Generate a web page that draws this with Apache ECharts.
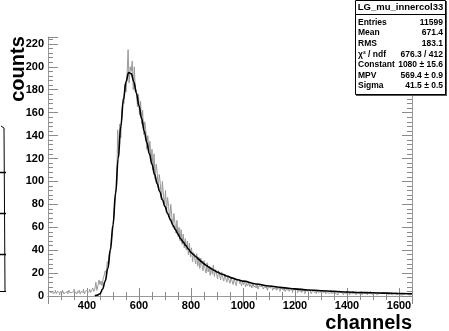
<!DOCTYPE html>
<html>
<head>
<meta charset="utf-8">
<script src="https://cdn.jsdelivr.net/npm/echarts@6/dist/echarts.min.js"></script>
<style>
html,body{margin:0;padding:0;background:#fff;}
#c{width:449px;height:331px;}
</style>
</head>
<body>
<div id="c"></div>
<script>
// ---- data ----
const histStart = 250;
const binWidth = 4;
// bins 250 - 446
const histLow = [2,4,3,3,4,2,3,5,2,4,3,1,4,3,5,2,3,4,4,2,5,3,3,2,4,6,3,2,4,3,5,2,4,3,6,2,4,5,3,4,6,3,5,7,4,6,12,5,9,14];
// bins 450 - 586
const histPeak = [10,13,9,15,18,22,20,30,28,38,42,50,55,66,78,88,95,145,122,150,138,160,172,168,185,178,192,215,186,200,196,205,180,200,178];
// bins 590 - 978
const histTail1 = [180,165,176,158,170,150,162,141,152,145,128,140,126,135,118,128,110,124,102,115,108,94,106,98,84,100,88,80,92,74,86,78,66,80,70,60,72,64,55,66,52,60,48,58,45,54,42,50,40,48,36,46,34,42,30,38,33,28,37,26,34,24,33,27,22,31,24,20,29,21,26,18,25,19,27,17,23,20,15,22,18,14,21,16,13,19,15,12,18,14,11,16,13,10,15,12,9,14];
// bins 982 - 1646
const histTail2 = [14,11,13,9,12,10,13,8,11,9,12,8,10,7,11,8,9,7,10,6,9,8,7,10,6,8,7,9,5,8,7,6,9,5,7,6,8,5,7,6,4,8,6,5,7,4,6,5,7,4,6,5,3,6,5,4,6,3,5,4,6,3,5,4,2,5,4,3,5,4,2,4,5,3,4,2,5,3,4,3,2,5,3,4,2,3,4,2,3,5,2,3,4,2,3,1,4,3,2,3,4,1,3,2,4,2,3,1,3,2,4,2,3,1,3,2,3,2,4,1,3,2,2,3,1,3,2,4,2,1,3,2,3,1,2,3,2,1,3,2,2,1,3,2,1,2,3,1,2,2,1,3,1,2,2,1,2,1,2,2,1,2,1,1,2,1,2];
const fitX = [430,440,450,460,470,480,490,500,510,520,530,540,550,560,570,580,590,600,610,620,630,640,650,660,670,680,690,700,710,720,730,740,750,760,770,780,790,800,810,820,830,840,850,860,870,880,890,900,920,940,960,980,1000,1050,1100,1150,1200,1250,1300,1350,1400,1450,1500,1550,1600,1650];
const fitY = [0.2,0.8,2,6,13,24,40,62,90,120,148,171,187,195,194,187,177,166,155,144,134,124,115,106,98,91,84,78,72,67,62,58,54,50,47,44,41,38,36,34,32,30,28,26.5,25,23.5,22.3,21,19,17.2,15.6,14.2,13,10.5,8.7,7.3,6.2,5.3,4.6,4.0,3.5,3.1,2.8,2.5,2.2,2.0];
const xRange = [250, 1650];
const yRange = [0, 226];
const statsTitle = 'LG_mu_innercol33';
const statsLabels = ['Entries', 'Mean', 'RMS', 'χ² / ndf', 'Constant', 'MPV', 'Sigma'];
const statsValues = ['11599', '671.4', '183.1', '676.3 / 412', '1080 ± 15.6', '569.4 ± 0.9', '41.5 ± 0.5'];
const xTitle = 'channels';
const yTitle = 'counts';

// ---- build ----
const histCounts = histLow.concat(histPeak, histTail1, histTail2);
const histPts = [];
histCounts.forEach((v, i) => {
  const a = histStart + i * binWidth;
  histPts.push([a, v], [a + binWidth, v]);
});
const fitPts = fitX.map((x, i) => [x, fitY[i]]);

const FONT = 'Liberation Sans, Arial, sans-serif';
const axisGray = '#999';
const tickGray = '#8a8a8a';

function xAxisCfg(pos, labels) {
  return {
    type: 'value', position: pos, min: xRange[0], max: xRange[1], splitNumber: 7,
    axisLine: { show: true, lineStyle: { color: axisGray, width: 1 } },
    axisTick: { show: true, inside: true, length: 8, lineStyle: { color: tickGray } },
    minorTick: { show: true, splitNumber: 4, length: 4, lineStyle: { color: tickGray } },
    splitLine: { show: false }, minorSplitLine: { show: false },
    axisLabel: { show: labels, showMinLabel: false, showMaxLabel: false, color: '#000',
      fontFamily: FONT, fontWeight: 'bold', fontSize: 11, margin: 4, formatter: v => String(v) }
  };
}
function yAxisCfg(pos, labels) {
  return {
    type: 'value', position: pos, min: yRange[0], max: yRange[1], interval: 20,
    axisLine: { show: true, lineStyle: { color: axisGray, width: 1 } },
    axisTick: { show: true, inside: true, length: 10, lineStyle: { color: tickGray } },
    minorTick: { show: true, splitNumber: 5, length: 5, lineStyle: { color: tickGray } },
    splitLine: { show: false }, minorSplitLine: { show: false },
    axisLabel: { show: labels, showMaxLabel: false, color: '#000',
      fontFamily: FONT, fontWeight: 'bold', fontSize: 11, margin: 4, formatter: v => String(v) }
  };
}

const Z = 200;
const statsChildren = [
  { type: 'rect', z: Z, shape: { x: 356, y: 1, width: 91, height: 95 },
    style: { fill: '#555', stroke: null } },
  { type: 'rect', z: Z + 1, shape: { x: 355.5, y: 0.5, width: 90, height: 94 },
    style: { fill: '#fff', stroke: '#000', lineWidth: 1 } },
  { type: 'line', z: Z + 2, shape: { x1: 355, y1: 14.5, x2: 446, y2: 14.5 }, style: { stroke: '#000', lineWidth: 1 } },
  { type: 'text', z: Z + 2, x: 400.5, y: 7.5, style: { text: statsTitle, fontFamily: FONT, fontWeight: 'bold', fontSize: 9.5,
      fill: '#000', align: 'center', verticalAlign: 'middle' } }
];
statsLabels.forEach((lab, i) => {
  const y = 22.5 + i * 10.6;
  statsChildren.push({ type: 'text', z: Z + 2, x: 358, y: y, style: { text: lab, fontFamily: FONT, fontWeight: 'bold',
    fontSize: 8.5, fill: '#000', align: 'left', verticalAlign: 'middle' } });
  statsChildren.push({ type: 'text', z: Z + 2, x: 443, y: y, style: { text: statsValues[i], fontFamily: FONT, fontWeight: 'bold',
    fontSize: 8.5, fill: '#000', align: 'right', verticalAlign: 'middle' } });
});

const chart = echarts.init(document.getElementById('c'), null, { renderer: 'canvas' });
chart.setOption({
  animation: false,
  backgroundColor: '#fff',
  grid: { left: 48, right: 37, top: 37, bottom: 35, show: false },
  xAxis: [xAxisCfg('bottom', true), xAxisCfg('top', false)],
  yAxis: [yAxisCfg('left', true), yAxisCfg('right', false)],
  series: [
    { type: 'line', data: histPts, showSymbol: false, symbol: 'none', silent: true,
      lineStyle: { color: '#999', width: 1 }, z: 2 },
    { type: 'line', data: fitPts, showSymbol: false, symbol: 'none', silent: true,
      smooth: 0.4, smoothMonotone: 'x',
      lineStyle: { color: '#000', width: 1.6 }, z: 3 }
  ],
  graphic: [
    { type: 'text', x: 412, y: 313, style: { text: xTitle, fontFamily: FONT, fontWeight: 'bold', fontSize: 20,
        fill: '#000', align: 'right', verticalAlign: 'top' } },
    { type: 'text', x: 18, y: 69, rotation: Math.PI / 2, style: { text: yTitle, fontFamily: FONT, fontWeight: 'bold',
        fontSize: 20, fill: '#000', align: 'center', verticalAlign: 'middle' } },
    { type: 'group', z: Z, children: statsChildren },
    { type: 'group', children: [
      { type: 'polyline', shape: { points: [[1, 126], [4, 128], [5, 291]] }, style: { stroke: '#000', lineWidth: 1, fill: null } },
      { type: 'line', shape: { x1: 0, y1: 172.5, x2: 6, y2: 172.5 }, style: { stroke: '#000', lineWidth: 1.5 } },
      { type: 'line', shape: { x1: 0, y1: 213.5, x2: 6, y2: 213.5 }, style: { stroke: '#000', lineWidth: 1.5 } },
      { type: 'line', shape: { x1: 0, y1: 254.5, x2: 6, y2: 254.5 }, style: { stroke: '#000', lineWidth: 1.5 } },
      { type: 'line', shape: { x1: 0, y1: 291.5, x2: 6, y2: 291.5 }, style: { stroke: '#000', lineWidth: 1 } }
    ] }
  ]
});
</script>
</body>
</html>
